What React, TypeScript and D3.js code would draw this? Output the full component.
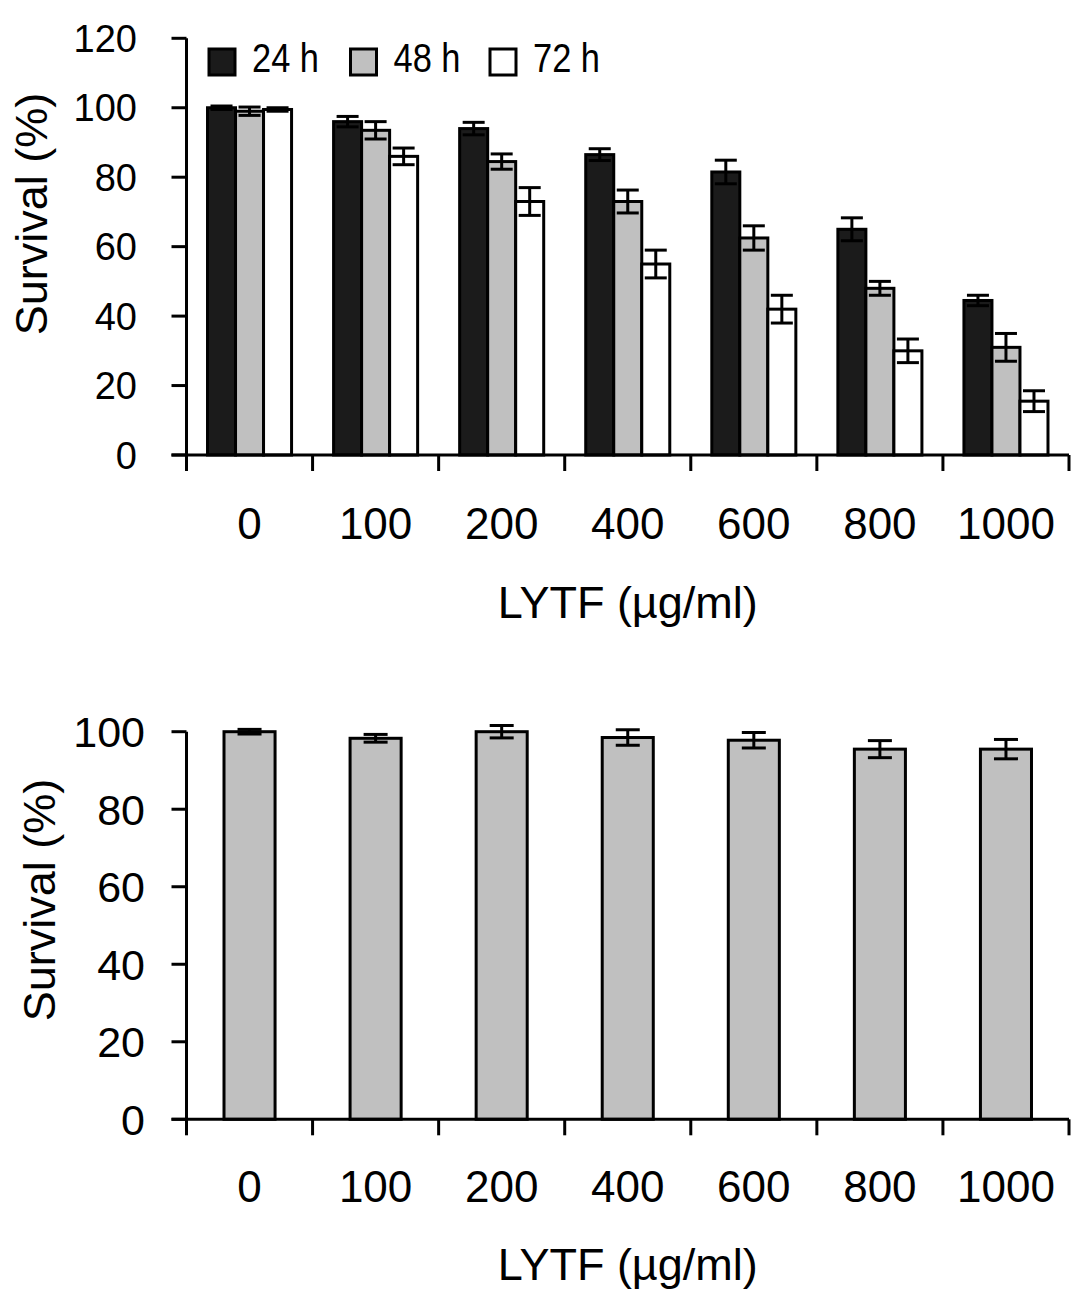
import React from "react";
import * as d3 from "d3";

const categories = ["0", "100", "200", "400", "600", "800", "1000"];
const seriesNames = ["24 h", "48 h", "72 h"];
const seriesColors = ["#1b1b1b", "#c0c0c0", "#ffffff"];
const h24 = [100, 96, 94, 86.5, 81.5, 65, 44.5];
const err24 = [0.5, 1.5, 1.8, 1.7, 3.4, 3.3, 1.5];
const h48 = [99, 93.5, 84.5, 73, 62.5, 48, 31];
const err48 = [1.2, 2.5, 2.2, 3.3, 3.5, 2, 4];
const h72 = [99.5, 86, 73, 55, 42, 30, 15.5];
const err72 = [0.5, 2.4, 4, 4, 4, 3.4, 3];
const topTicks = [0, 20, 40, 60, 80, 100, 120];

const bottomValues = [100, 98.3, 100, 98.5, 97.8, 95.5, 95.5];
const bottomErr = [0.6, 1, 1.6, 2, 2, 2.2, 2.5];
const bottomTicks = [0, 20, 40, 60, 80, 100];

const yTitle = "Survival (%)";
const xTitle = "LYTF (µg/ml)";

const FONT = "'Liberation Sans', Arial, sans-serif";
const SW = 3;

function ErrorBar({ cx, yv, ye, y, cap }: any) {
  return (
    <g stroke="#000" strokeWidth={SW} fill="none">
      <line x1={cx} x2={cx} y1={y(yv + ye)} y2={y(yv - ye)} />
      <line x1={cx - cap / 2} x2={cx + cap / 2} y1={y(yv + ye)} y2={y(yv + ye)} />
      <line x1={cx - cap / 2} x2={cx + cap / 2} y1={y(yv - ye)} y2={y(yv - ye)} />
    </g>
  );
}

function Axes({ x, y, ticks, left, right, labelX, labelSize, catY, titleY, yTitleX, yTitleY }: any) {
  const y0 = y(0);
  const yTop = y(ticks[ticks.length - 1]);
  const tickXs = categories.map((_: string, i: number) => left + x.step() * (i + 1));
  return (
    <g>
      <line x1={left} x2={left} y1={yTop} y2={y0} stroke="#000" strokeWidth={SW} />
      <line x1={left - 15} x2={right} y1={y0} y2={y0} stroke="#000" strokeWidth={SW} />
      {ticks.map((t: number) => (
        <g key={t}>
          <line x1={left - 15} x2={left} y1={y(t)} y2={y(t)} stroke="#000" strokeWidth={SW} />
          <text x={labelX} y={y(t)} dy="0.36em" textAnchor="end" fontSize={labelSize} fontFamily={FONT} fill="#000">
            {t}
          </text>
        </g>
      ))}
      {[left, ...tickXs].map((tx: number, i: number) => (
        <line key={i} x1={tx} x2={tx} y1={y0} y2={y0 + 16} stroke="#000" strokeWidth={SW} />
      ))}
      {categories.map((c: string) => (
        <text key={c} x={(x(c) as number) + x.bandwidth() / 2} y={catY} textAnchor="middle" fontSize={44} fontFamily={FONT} fill="#000">
          {c}
        </text>
      ))}
      <text x={(left + right) / 2} y={titleY} textAnchor="middle" fontSize={45} fontFamily={FONT} fill="#000">
        {xTitle}
      </text>
      <text transform={`translate(${yTitleX},${yTitleY}) rotate(-90)`} textAnchor="middle" fontSize={45} fontFamily={FONT} fill="#000">
        {yTitle}
      </text>
    </g>
  );
}

export default function App() {
  const left = 186.5;
  const right = 1069;

  // Top chart
  const xTop = d3.scaleBand<string>().domain(categories).range([left, right]).paddingInner(1 / 3).paddingOuter(1 / 6);
  const yTopS = d3.scaleLinear().domain([0, 120]).range([455, 38.3]);
  const xSub = d3.scaleBand<string>().domain(seriesNames).range([0, xTop.bandwidth()]);
  const series = [
    { name: seriesNames[0], vals: h24, errs: err24, color: seriesColors[0] },
    { name: seriesNames[1], vals: h48, errs: err48, color: seriesColors[1] },
    { name: seriesNames[2], vals: h72, errs: err72, color: seriesColors[2] },
  ];

  // Bottom chart
  const xBot = d3.scaleBand<string>().domain(categories).range([left, right]).paddingInner(0.595).paddingOuter(0.2975);
  const yBotS = d3.scaleLinear().domain([0, 100]).range([1119.3, 731.7]);

  const legendX = [209, 350.5, 490];

  return (
    <svg width={1087} height={1302} style={{ position: "absolute", left: 0, top: 0, background: "#fff" }}>
      <rect x={0} y={0} width={1087} height={1302} fill="#fff" />
      {/* top bars */}
      {series.map((s) =>
        categories.map((c, i) => {
          const bx = (xTop(c) as number) + (xSub(s.name) as number);
          const w = xSub.bandwidth();
          return (
            <rect key={s.name + c} x={bx} y={yTopS(s.vals[i])} width={w} height={yTopS(0) - yTopS(s.vals[i])} fill={s.color} stroke="#000" strokeWidth={SW} />
          );
        })
      )}
      {series.map((s) =>
        categories.map((c, i) => {
          const bx = (xTop(c) as number) + (xSub(s.name) as number);
          const w = xSub.bandwidth();
          return <ErrorBar key={"e" + s.name + c} cx={bx + w / 2} yv={s.vals[i]} ye={s.errs[i]} y={yTopS} cap={22} />;
        })
      )}
      <Axes x={xTop} y={yTopS} ticks={topTicks} left={left} right={right} labelX={137} labelSize={38} catY={539} titleY={618} yTitleX={47} yTitleY={214} />
      {/* legend */}
      {series.map((s, i) => (
        <g key={"lg" + s.name}>
          <rect x={legendX[i]} y={49} width={26} height={26} fill={s.color} stroke="#000" strokeWidth={SW} />
          <text x={legendX[i] + 43} y={71.5} fontSize={41} fontFamily={FONT} fill="#000" textLength={67} lengthAdjust="spacingAndGlyphs">
            {s.name}
          </text>
        </g>
      ))}

      {/* bottom bars */}
      {categories.map((c, i) => (
        <rect key={"b" + c} x={xBot(c) as number} y={yBotS(bottomValues[i])} width={xBot.bandwidth()} height={yBotS(0) - yBotS(bottomValues[i])} fill="#c0c0c0" stroke="#000" strokeWidth={SW} />
      ))}
      {categories.map((c, i) => (
        <ErrorBar key={"be" + c} cx={(xBot(c) as number) + xBot.bandwidth() / 2} yv={bottomValues[i]} ye={bottomErr[i]} y={yBotS} cap={24} />
      ))}
      <Axes x={xBot} y={yBotS} ticks={bottomTicks} left={left} right={right} labelX={145} labelSize={43} catY={1201.5} titleY={1280} yTitleX={55} yTitleY={900} />
    </svg>
  );
}
